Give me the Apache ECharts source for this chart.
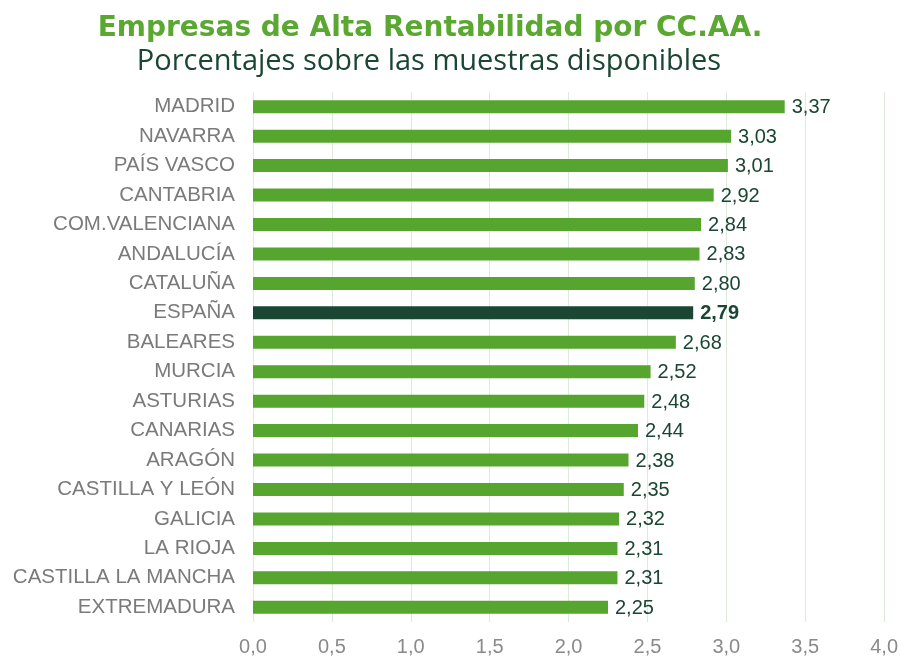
<!DOCTYPE html>
<html>
<head>
<meta charset="utf-8">
<script src="https://cdn.jsdelivr.net/npm/echarts@6/dist/echarts.min.js"></script>
<style>
  html, body { margin: 0; padding: 0; background: #fff; }
  #chart { width: 901px; height: 657px; }
</style>
</head>
<body>
<div id="chart"></div>
<script>
// regiones, de arriba a abajo
const regions = ['MADRID', 'NAVARRA', 'PAÍS VASCO', 'CANTABRIA', 'COM.VALENCIANA', 'ANDALUCÍA',
  'CATALUÑA', 'ESPAÑA', 'BALEARES', 'MURCIA', 'ASTURIAS', 'CANARIAS', 'ARAGÓN',
  'CASTILLA Y LEÓN', 'GALICIA', 'LA RIOJA', 'CASTILLA LA MANCHA', 'EXTREMADURA']
const values = [3.37, 3.03, 3.01, 2.92, 2.84, 2.83, 2.80, 2.79, 2.68, 2.52, 2.48, 2.44, 2.38,
  2.35, 2.32, 2.31, 2.31, 2.25]
const highlight = 'ESPAÑA'

const green = '#56a52f'
const dark = '#1a4633'

const chart = echarts.init(document.getElementById('chart'))

const fmt = (v) => v.toFixed(2).replace('.', ',')

const option = {
  animation: false,
  title: [
    {
      text: 'Empresas de Alta Rentabilidad por CC.AA.',
      left: 425,
      textAlign: 'center',
      top: 10,
      textStyle: { fontFamily: 'DejaVu Sans', fontWeight: 'bold', fontSize: 28, color: '#5aa832' }
    },
    {
      text: 'Porcentajes sobre las muestras disponibles',
      left: 424,
      textAlign: 'center',
      top: 42,
      textStyle: { fontFamily: 'Open Sans', fontWeight: 'normal', fontSize: 29, color: dark }
    }
  ],
  grid: { left: 253, right: 16, top: 92, bottom: 33, containLabel: false },
  xAxis: {
    type: 'value',
    min: 0,
    max: 4,
    interval: 0.5,
    axisLine: { show: false },
    axisTick: { show: false },
    splitLine: { lineStyle: { color: '#dcebdc', width: 1 } },
    axisLabel: {
      margin: 15,
      color: '#8a8a8a',
      fontFamily: 'Liberation Sans',
      fontSize: 20,
      formatter: (v) => v.toFixed(1).replace('.', ',')
    }
  },
  yAxis: {
    type: 'category',
    inverse: true,
    data: regions,
    axisLine: { show: false },
    axisTick: { show: false },
    axisLabel: {
      margin: 18,
      color: '#7a7a7a',
      fontFamily: 'Liberation Sans',
      fontSize: 20.5
    }
  },
  series: [
    {
      type: 'bar',
      barWidth: 13,
      data: values.map((v, i) => {
        const isHi = regions[i] === highlight
        return {
          value: v,
          itemStyle: { color: isHi ? dark : green },
          label: { fontWeight: isHi ? 'bold' : 'normal' }
        }
      }),
      label: {
        show: true,
        position: 'right',
        distance: 7,
        offset: [0, 1],
        color: dark,
        fontFamily: 'Liberation Sans',
        fontSize: 20,
        formatter: (p) => fmt(p.value)
      }
    }
  ]
}

chart.setOption(option)
</script>
</body>
</html>
